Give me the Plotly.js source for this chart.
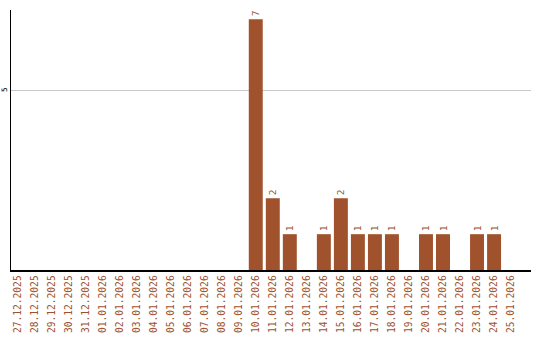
<!DOCTYPE html>
<html><head><meta charset="utf-8">
<script src="https://cdn.plot.ly/plotly-3.0.1.min.js"></script>
<style>html,body{margin:0;padding:0;background:#fff}#c{width:540px;height:340px}</style>
</head><body><div id="c"></div>
<script>
const dates = ["27.12.2025","28.12.2025","29.12.2025","30.12.2025","31.12.2025","01.01.2026","02.01.2026","03.01.2026","04.01.2026","05.01.2026","06.01.2026","07.01.2026","08.01.2026","09.01.2026","10.01.2026","11.01.2026","12.01.2026","13.01.2026","14.01.2026","15.01.2026","16.01.2026","17.01.2026","18.01.2026","19.01.2026","20.01.2026","21.01.2026","22.01.2026","23.01.2026","24.01.2026","25.01.2026"];
const counts = [0,0,0,0,0,0,0,0,0,0,0,0,0,0,7,2,1,0,1,2,1,1,1,0,1,1,0,1,1,0];
const yTicks = [5];

const color = '#a0522d';
const labels = counts.map(v => v > 0 ? String(v) : '');
Plotly.newPlot('c', [{
  type: 'bar',
  x: dates.map((d,i)=>i),
  y: counts,
  text: labels,
  textposition: 'outside',
  textangle: -90,
  cliponaxis: false,
  textfont: {family: 'DejaVu Sans Mono', size: 9.5, color: color},
  marker: {color: color, line: {width: 0}},
  width: 0.82,
  hoverinfo: 'none'
}], {
  width: 540, height: 340,
  margin: {l: 11, r: 9, t: 10, b: 70},
  paper_bgcolor: '#fff', plot_bgcolor: '#fff',
  showlegend: false,
  bargap: 0.18,
  xaxis: {
    range: [-0.38, 30.17],
    tickmode: 'array',
    tickvals: dates.map((d,i)=>i),
    ticktext: dates,
    tickangle: -90,
    tickfont: {family: 'DejaVu Sans Mono', size: 9.6, color: color},
    showgrid: false, zeroline: false,
    showline: true, linecolor: '#000', linewidth: 1.5,
    ticks: '', ticklen: 0,
    automargin: false
  },
  yaxis: {
    range: [0, 7.26],
    tickmode: 'array',
    tickvals: yTicks,
    ticktext: yTicks.map(String),
    tickangle: -90,
    tickfont: {family: 'DejaVu Sans Mono', size: 7.5, color: '#000'},
    showgrid: true, gridcolor: '#c8c8c8', gridwidth: 1,
    zeroline: false,
    showline: true, linecolor: '#000', linewidth: 1.5,
    ticks: '', ticklen: 0,
    automargin: false
  }
}, {staticPlot: true, displayModeBar: false});
</script>
</body></html>
